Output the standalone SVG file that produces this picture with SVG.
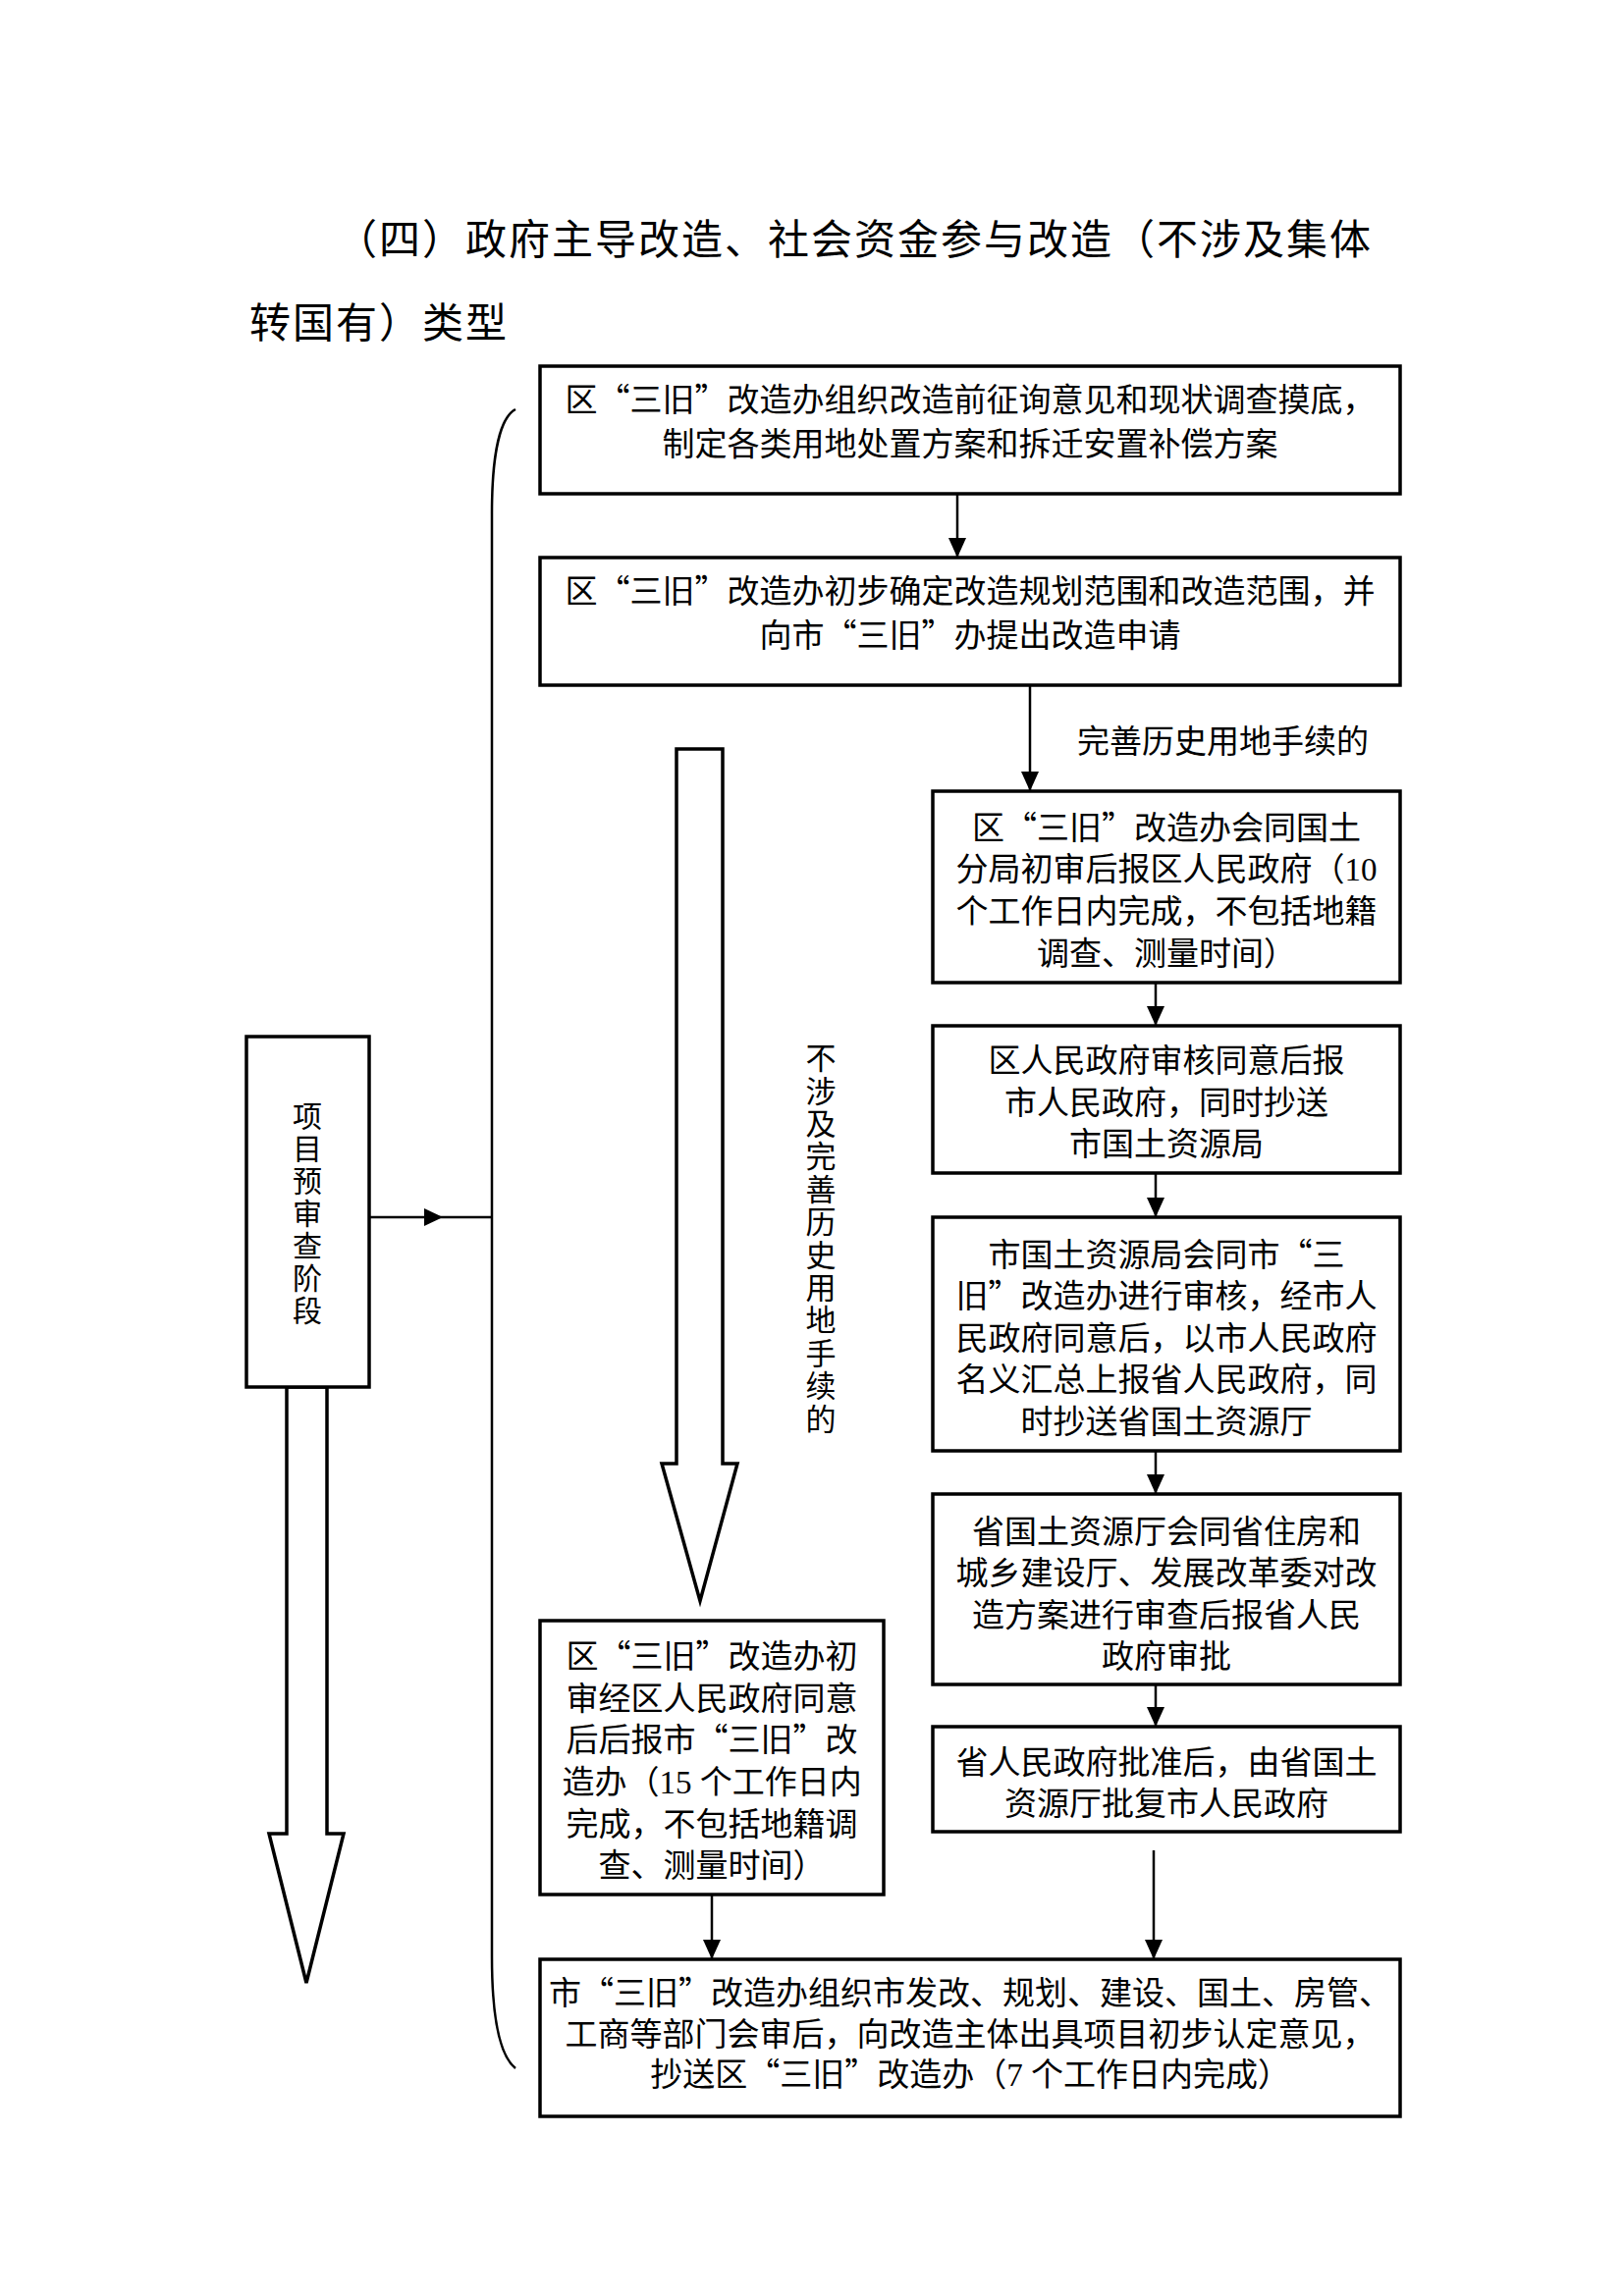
<svg xmlns="http://www.w3.org/2000/svg" width="1654" height="2339" viewBox="0 0 1654 2339">
<style>
text{font-family:"Noto Sans CJK SC","Noto Sans CJK TC",sans-serif;fill:#000;}
.t{font-size:33px;text-anchor:middle;}
.title{font-size:42px;letter-spacing:2px;}
.lbl{font-size:33px;}
.vt{font-size:31px;writing-mode:vertical-rl;letter-spacing:2.4px;}
.vs{font-size:30px;writing-mode:vertical-rl;letter-spacing:3px;}
.num{font-family:"Liberation Serif",serif;}
.box{fill:#fff;stroke:#000;stroke-width:3.5;}
.ln{fill:none;stroke:#000;stroke-width:2.5;}
.hollow{fill:#fff;stroke:#000;stroke-width:3.5;stroke-linejoin:miter;}
</style>
<defs>
<marker id="ah" markerUnits="userSpaceOnUse" markerWidth="20" markerHeight="18" refX="20" refY="9" orient="auto">
<path d="M0,0 L20,9 L0,18 z" fill="#000"/>
</marker>
</defs>
<rect width="1654" height="2339" fill="#fff"/>

<g id="title">
<text class="title"><tspan x="342" y="259">（四）政府主导改造、社会资金参与改造（不涉及集体</tspan><tspan x="254" y="344">转国有）类型</tspan></text>
</g>

<g id="connectors">
<path class="ln" d="M525,417 C510,425 501,460 501,523 L501,1993 C501,2060 510,2095 525,2107"/>
<line class="ln" x1="975" y1="503" x2="975" y2="568" marker-end="url(#ah)"/>
<line class="ln" x1="1049" y1="698" x2="1049" y2="806" marker-end="url(#ah)"/>
<line class="ln" x1="1177" y1="1001" x2="1177" y2="1045" marker-end="url(#ah)"/>
<line class="ln" x1="1177" y1="1195" x2="1177" y2="1240" marker-end="url(#ah)"/>
<line class="ln" x1="1177" y1="1478" x2="1177" y2="1522" marker-end="url(#ah)"/>
<line class="ln" x1="1177" y1="1716" x2="1177" y2="1759" marker-end="url(#ah)"/>
<line class="ln" x1="1175" y1="1885" x2="1175" y2="1996" marker-end="url(#ah)"/>
<line class="ln" x1="725" y1="1930" x2="725" y2="1996" marker-end="url(#ah)"/>
<line class="ln" x1="376" y1="1240" x2="501" y2="1240"/>
<path d="M432,1231 L451,1240 L432,1249 z" fill="#000"/>
<polygon class="hollow" points="689,763 736,763 736,1491 751,1491 713,1631 674,1491 689,1491"/>
<polygon class="hollow" points="292,1413 333,1413 333,1868 350,1868 312,2020 274,1868 292,1868"/>
<text class="lbl" x="1097" y="767">完善历史用地手续的</text>
<text class="vt" x="836" y="1062">不涉及完善历史用地手续的</text>
</g>

<g id="n-stage">
<rect class="box" x="251" y="1056" width="125" height="357"/>
<text class="vs" x="313" y="1122">项目预审查阶段</text>
</g>

<g id="n1">
<rect class="box" x="550" y="373" width="876" height="130"/>
<text class="t"><tspan x="988" y="419">区“三旧”改造办组织改造前征询意见和现状调查摸底，</tspan><tspan x="988" y="464">制定各类用地处置方案和拆迁安置补偿方案</tspan></text>
</g>

<g id="n2">
<rect class="box" x="550" y="568" width="876" height="130"/>
<text class="t"><tspan x="988" y="614">区“三旧”改造办初步确定改造规划范围和改造范围，并</tspan><tspan x="988" y="659">向市“三旧”办提出改造申请</tspan></text>
</g>

<g id="n3">
<rect class="box" x="950" y="806" width="476" height="195"/>
<text class="t"><tspan x="1188" y="855">区“三旧”改造办会同国土</tspan><tspan x="1188" y="897">分局初审后报区人民政府（<tspan class="num">10</tspan></tspan><tspan x="1188" y="940">个工作日内完成，不包括地籍</tspan><tspan x="1188" y="983">调查、测量时间）</tspan></text>
</g>

<g id="n4">
<rect class="box" x="950" y="1045" width="476" height="150"/>
<text class="t"><tspan x="1188" y="1092">区人民政府审核同意后报</tspan><tspan x="1188" y="1135">市人民政府，同时抄送</tspan><tspan x="1188" y="1177">市国土资源局</tspan></text>
</g>

<g id="n5">
<rect class="box" x="950" y="1240" width="476" height="238"/>
<text class="t"><tspan x="1188" y="1290">市国土资源局会同市“三</tspan><tspan x="1188" y="1332">旧”改造办进行审核，经市人</tspan><tspan x="1188" y="1375">民政府同意后，以市人民政府</tspan><tspan x="1188" y="1417">名义汇总上报省人民政府，同</tspan><tspan x="1188" y="1460">时抄送省国土资源厅</tspan></text>
</g>

<g id="n6">
<rect class="box" x="950" y="1522" width="476" height="194"/>
<text class="t"><tspan x="1188" y="1572">省国土资源厅会同省住房和</tspan><tspan x="1188" y="1614">城乡建设厅、发展改革委对改</tspan><tspan x="1188" y="1657">造方案进行审查后报省人民</tspan><tspan x="1188" y="1699">政府审批</tspan></text>
</g>

<g id="n7">
<rect class="box" x="950" y="1759" width="476" height="107"/>
<text class="t"><tspan x="1188" y="1807">省人民政府批准后，由省国土</tspan><tspan x="1188" y="1849">资源厅批复市人民政府</tspan></text>
</g>

<g id="n8">
<rect class="box" x="550" y="1651" width="350" height="279"/>
<text class="t"><tspan x="725" y="1699">区“三旧”改造办初</tspan><tspan x="725" y="1742">审经区人民政府同意</tspan><tspan x="725" y="1784">后后报市“三旧”改</tspan><tspan x="725" y="1827">造办（<tspan class="num">15 </tspan>个工作日内</tspan><tspan x="725" y="1870">完成，不包括地籍调</tspan><tspan x="725" y="1912">查、测量时间）</tspan></text>
</g>

<g id="n9">
<rect class="box" x="550" y="1996" width="876" height="160"/>
<text class="t"><tspan x="988" y="2042">市“三旧”改造办组织市发改、规划、建设、国土、房管、</tspan><tspan x="988" y="2084">工商等部门会审后，向改造主体出具项目初步认定意见，</tspan><tspan x="988" y="2125">抄送区“三旧”改造办（<tspan class="num">7 </tspan>个工作日内完成）</tspan></text>
</g>
</svg>
